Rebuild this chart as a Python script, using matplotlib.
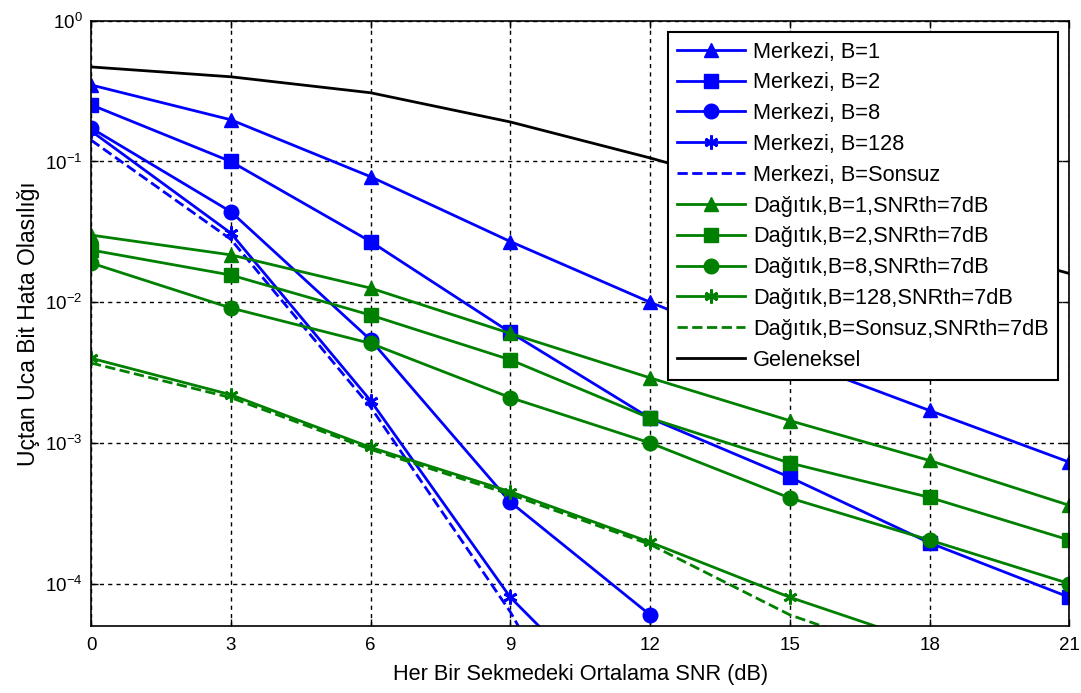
import matplotlib
matplotlib.use("Agg")
import matplotlib.pyplot as plt
import numpy as np

plt.rcParams['font.family'] = ['Liberation Sans', 'DejaVu Sans']
plt.rcParams['mathtext.fontset'] = 'custom'
plt.rcParams['mathtext.rm'] = 'Liberation Sans'
plt.rcParams['mathtext.it'] = 'Liberation Sans:italic'
plt.rcParams['mathtext.bf'] = 'Liberation Sans:bold'

# ---- data ----
snr = [0, 3, 6, 9, 12, 15, 18, 21]
snr_short = [0, 3, 6, 9, 12]

geleneksel = [0.47, 0.40, 0.308, 0.191, 0.106, 0.056, 0.030, 0.016]

merkezi_b1 = [0.35, 0.198, 0.078, 0.027, 0.010, 0.0040, 0.0017, 7.3e-4]
merkezi_b2 = [0.253, 0.10, 0.027, 0.0061, 0.0015, 5.7e-4, 1.95e-4, 8e-5]
merkezi_b8 = [0.173, 0.044, 0.0054, 3.8e-4, 6e-5]
merkezi_b128 = [0.165, 0.031, 0.002, 8e-5, 8e-6]
merkezi_inf = [0.142, 0.028, 0.0018, 6.3e-5, 1.1e-6]

dagitik_b1 = [0.030, 0.0217, 0.0126, 0.006, 0.0029, 1.44e-3, 7.5e-4, 3.6e-4]
dagitik_b2 = [0.0235, 0.0156, 0.0081, 0.0039, 0.0015, 7.2e-4, 4.1e-4, 2.04e-4]
dagitik_b8 = [0.019, 0.0091, 0.0051, 0.0021, 1e-3, 4.06e-4, 2.04e-4, 1e-4]
dagitik_b128 = [0.004, 0.0022, 9.3e-4, 4.5e-4, 1.97e-4, 8e-5, 3.7e-5, 1.8e-5]
dagitik_inf = [0.0037, 0.0021, 9e-4, 4.3e-4, 1.9e-4, 6e-5, 2.7e-5, 1.2e-5]

xticks = [0, 3, 6, 9, 12, 15, 18, 21]
yticks = [1e-4, 1e-3, 1e-2, 1e-1, 1e0]

labels = ['Merkezi, B=1', 'Merkezi, B=2', 'Merkezi, B=8', 'Merkezi, B=128',
          'Merkezi, B=Sonsuz',
          'Dağıtık,B=1,SNRth=7dB', 'Dağıtık,B=2,SNRth=7dB', 'Dağıtık,B=8,SNRth=7dB',
          'Dağıtık,B=128,SNRth=7dB', 'Dağıtık,B=Sonsuz,SNRth=7dB', 'Geleneksel']

blue = '#0000ff'
green = '#008000'
lw = 2.0
ast = (6, 2, 0)

fig = plt.figure(figsize=(10.81, 6.93), dpi=100)
ax = fig.add_axes([0.0842, 0.0967, 0.905, 0.8733])

ax.semilogy(snr, merkezi_b1, '-', color=blue, lw=lw, marker='^', ms=10.5, label=labels[0])
ax.semilogy(snr, merkezi_b2, '-', color=blue, lw=lw, marker='s', ms=9.5, label=labels[1])
ax.semilogy(snr_short, merkezi_b8, '-', color=blue, lw=lw, marker='o', ms=10.5, label=labels[2])
ax.semilogy(snr_short, merkezi_b128, '-', color=blue, lw=lw, marker=ast, ms=10, mew=2, label=labels[3])
ax.semilogy(snr_short, merkezi_inf, '--', color=blue, lw=lw, label=labels[4])
ax.semilogy(snr, dagitik_b1, '-', color=green, lw=lw, marker='^', ms=10.5, label=labels[5])
ax.semilogy(snr, dagitik_b2, '-', color=green, lw=lw, marker='s', ms=9.5, label=labels[6])
ax.semilogy(snr, dagitik_b8, '-', color=green, lw=lw, marker='o', ms=10.5, label=labels[7])
ax.semilogy(snr, dagitik_b128, '-', color=green, lw=lw, marker=ast, ms=10, mew=2, label=labels[8])
ax.semilogy(snr, dagitik_inf, '--', color=green, lw=lw, label=labels[9])
ax.semilogy(snr, geleneksel, '-', color='black', lw=lw, label=labels[10])

ax.set_xlim(0, 21)
ax.set_ylim(5e-5, 1)
ax.set_xticks(xticks)
ax.set_yticks(yticks)
ax.yaxis.set_minor_locator(matplotlib.ticker.NullLocator())
ax.grid(True, which='major', color='black', linestyle=(0, (3, 3)), lw=1)
ax.tick_params(direction='in', top=True, right=True, labelsize=13.5, length=5, width=1)
ax.tick_params(axis='x', pad=8)
ax.tick_params(axis='y', pad=6)
for s in ax.spines.values():
    s.set_linewidth(1.2)

ax.set_xlabel('Her Bir Sekmedeki Ortalama SNR (dB)', fontsize=15.7, labelpad=7)
ax.set_ylabel('Uçtan Uca Bit Hata Olasılığı', fontsize=16.5, labelpad=4)

leg = ax.legend(loc='upper right', fontsize=15.7, handlelength=3.1, handletextpad=0.37,
                borderaxespad=0.5, labelspacing=0.45, fancybox=False, framealpha=1,
                edgecolor='black', borderpad=0.45)
leg.get_frame().set_linewidth(1.5)

fig.savefig('out.png', dpi=100)
